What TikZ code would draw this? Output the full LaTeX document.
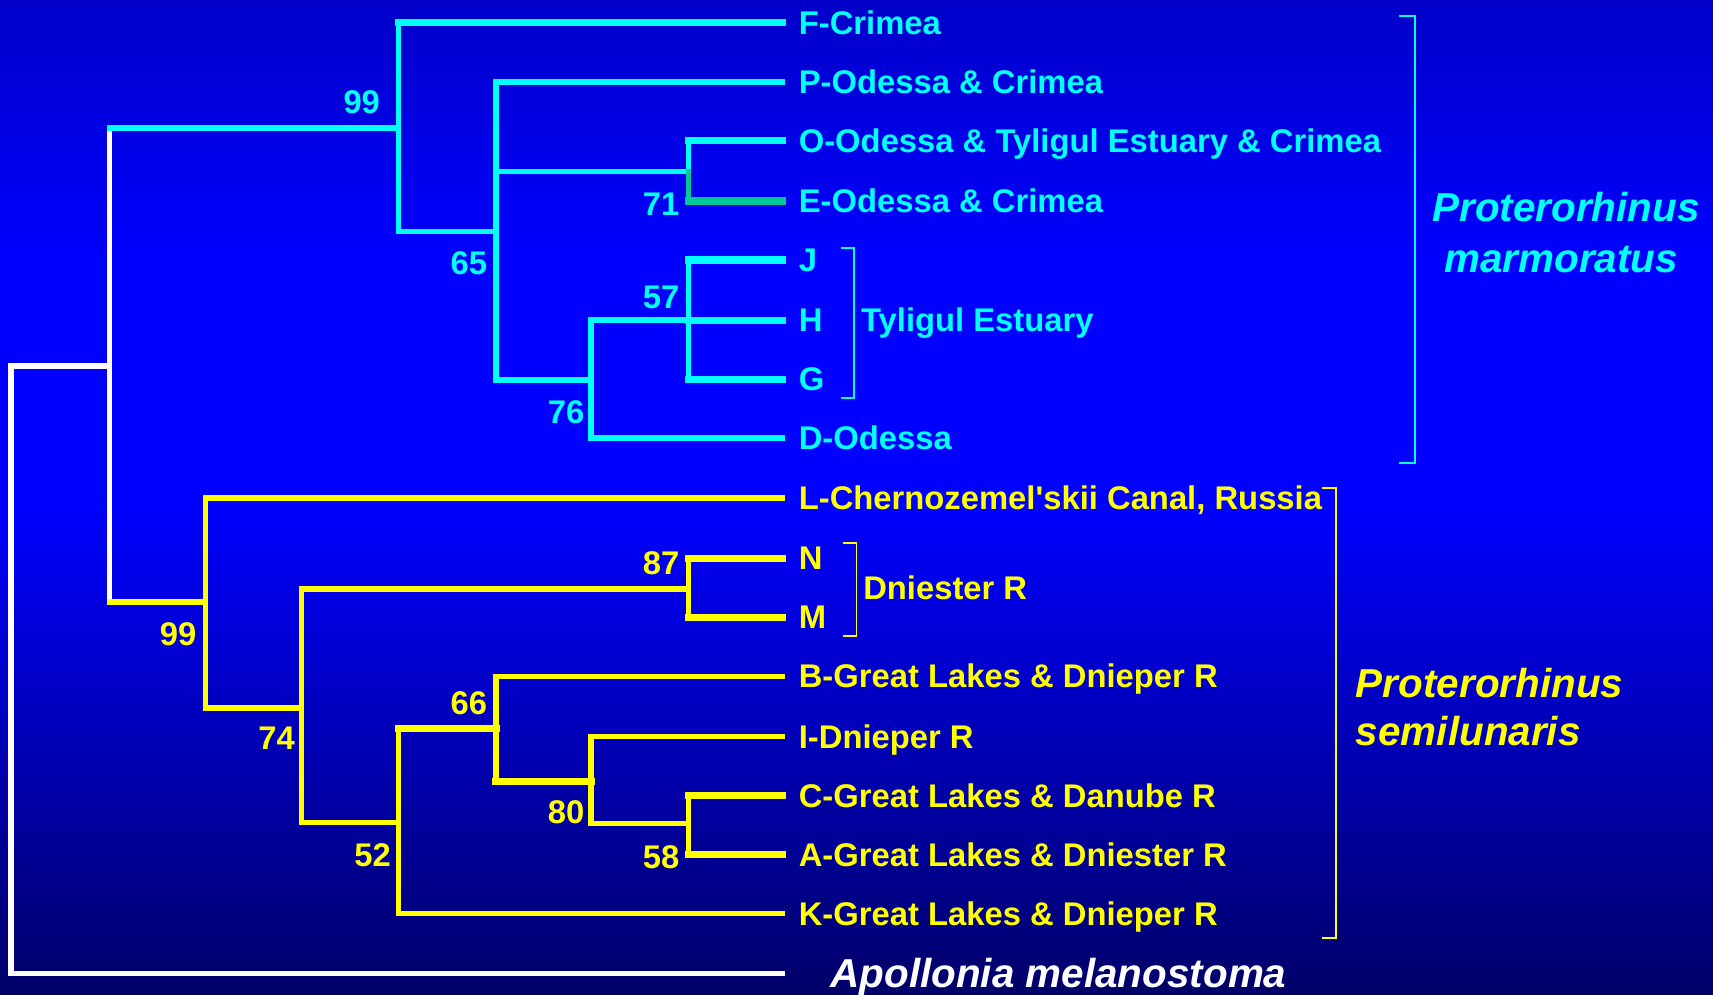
\documentclass[tikz,border=0pt]{standalone}
\usepackage{fontspec}
\setmainfont{Liberation Sans}
\usetikzlibrary{calc}
\definecolor{cy}{RGB}{0,255,255}
\definecolor{yl}{RGB}{255,255,0}
\definecolor{gr}{RGB}{0,200,150}
\definecolor{bgtop}{RGB}{0,0,200}
\definecolor{bgmid}{RGB}{0,0,255}
\definecolor{bgbot}{RGB}{0,0,104}
\begin{document}
\begin{tikzpicture}[x=1pt,y=-1pt,
  br/.style={line width=5pt, line join=miter, line cap=rect},
  brt/.style={line width=6.5pt, line join=miter, line cap=rect},
  bk/.style={line width=1.8pt},
  lab/.style={font=\fontsize{30}{30}\selectfont\bfseries, inner sep=0pt, anchor=base west},
  num/.style={font=\fontsize{30}{30}\selectfont\bfseries, inner sep=0pt, anchor=base east},
  sp/.style={font=\fontsize{37}{46}\selectfont\bfseries\itshape, inner sep=0pt, anchor=base west},
]
\useasboundingbox (0,0) rectangle (1568,910);
% background
\shade[top color=bgtop, bottom color=bgmid] (0,0) rectangle (1568,240);
\fill[bgmid] (0,239) rectangle (1568,461);
\shade[top color=bgmid, bottom color=bgbot] (0,460) rectangle (1568,910);

% leaf ends
\foreach \n/\y in {F/21,P/75,O/129,E/184,J/238,H/293,G/347,D/401,L/456,N/511,M/565,B/619,I/674,C/728,A/782,K/836,Apo/891}
  \coordinate (e\n) at (716,\y);

% internal nodes
\coordinate (root) at (10,613);
\coordinate (nA) at (100,335);
\coordinate (nAt) at (100,117);
\coordinate (nAb) at (100,551);
\coordinate (n99m) at (365,117);
\coordinate (n65) at (454,212);
\coordinate (nOE) at (630,157);
\coordinate (n76) at (541,348);
\coordinate (nJHG) at (630,293);
\coordinate (n99s) at (188,551);
\coordinate (n74) at (276,648);
\coordinate (nNM) at (630,539);
\coordinate (n52) at (365,753);
\coordinate (n66) at (454,667);
\coordinate (n80) at (541,715);
\coordinate (nCA) at (630,754);

% root / outgroup
\draw[br,white] (nA) -| (root) |- (eApo);
\draw[br,white] (nAt) -- (nAb);

% P. marmoratus clade
\draw[br,cy] (nAt) -- (n99m);
\draw[br,cy] (n99m |- eF) |- (n65);
\draw[brt,cy] (eF) -- (n99m |- eF);
\draw[br,cy] (eP) -| (n65) |- (n76);
\draw[br,cy] (n65 |- nOE) -- (nOE);
\draw[br,cy] (nOE) -- (nOE |- eO);
\draw[brt,cy] (nOE |- eO) -- (eO);
\draw[br,gr] (nOE) -- (nOE |- eE);
\draw[brt,gr] (nOE |- eE) -- (eE);
\draw[br,cy] (n76 |- eH) |- (eD);
\draw[br,cy] (n76 |- eH) -- (nJHG);
\draw[br,cy] (nJHG |- eJ) -- (nJHG |- eG);
\draw[brt,cy] (nJHG |- eJ) -- (eJ);
\draw[brt,cy] (nJHG) -- (eH);
\draw[brt,cy] (nJHG |- eG) -- (eG);

% P. semilunaris clade
\draw[br,yl] (nAb) -- (n99s);
\draw[br,yl] (n99s |- eL) -- (eL);
\draw[br,yl] (n99s |- eL) |- (n74);
\draw[br,yl] (nNM) -| (n74) |- (n52);
\draw[br,yl] (nNM |- eN) -- (nNM |- eM);
\draw[brt,yl] (nNM |- eN) -- (eN);
\draw[brt,yl] (nNM |- eM) -- (eM);
\draw[brt,yl] (n52 |- n66) -- (n66);
\draw[br,yl] (n52 |- n66) |- (eK);
\draw[br,yl] (eB) -| (n66) -- (n66 |- n80);
\draw[brt,yl] (n66 |- n80) -- (n80);
\draw[br,yl] (eI) -| (n80) |- (nCA);
\draw[br,yl] (nCA |- eC) -- (nCA |- eA);
\draw[brt,yl] (nCA |- eC) -- (eC);
\draw[brt,yl] (nCA |- eA) -- (eA);

% bootstrap values
\node[num,text=cy] (b99m) at ($(n99m)+(-17,-13)$) {99};
\node[num,text=cy] (b65) at ($(n65)+(-8,39)$) {65};
\node[num,text=cy] (b71) at ($(nOE)+(-8,40)$) {71};
\node[num,text=cy] (b57) at ($(nJHG)+(-8,-11)$) {57};
\node[num,text=cy] (b76) at ($(n76)+(-6,40)$) {76};
\node[num,text=yl] (b99s) at ($(n99s)+(-8,40)$) {99};
\node[num,text=yl] (b87) at ($(nNM)+(-8,-13)$) {87};
\node[num,text=yl] (b74) at ($(n74)+(-6,38)$) {74};
\node[num,text=yl] (b66) at ($(n66)+(-8,-13)$) {66};
\node[num,text=yl] (b52) at ($(n52)+(-7,40)$) {52};
\node[num,text=yl] (b80) at ($(n80)+(-6,39)$) {80};
\node[num,text=yl] (b58) at ($(nCA)+(-8,41)$) {58};

% leaf labels
\node[lab,text=cy] (tF) at ($(eF)+(15,10.7)$) {F-Crimea};
\node[lab,text=cy] (tP) at ($(eP)+(15,10.7)$) {P-Odessa \& Crimea};
\node[lab,text=cy] (tO) at ($(eO)+(15,10.7)$) {O-Odessa \& Tyligul Estuary \& Crimea};
\node[lab,text=cy] (tE) at ($(eE)+(15,10.7)$) {E-Odessa \& Crimea};
\node[lab,text=cy] (tJ) at ($(eJ)+(15,10.7)$) {J};
\node[lab,text=cy] (tH) at ($(eH)+(15,10.7)$) {H};
\node[lab,text=cy] (tG) at ($(eG)+(15,10.7)$) {G};
\node[lab,text=cy] (tD) at ($(eD)+(15,10.7)$) {D-Odessa};
\node[lab,text=yl] (tL) at ($(eL)+(15,10.7)$) {L-Chernozemel\textquotesingle skii Canal, Russia};
\node[lab,text=yl] (tN) at ($(eN)+(15,10.7)$) {N};
\node[lab,text=yl] (tM) at ($(eM)+(15,10.7)$) {M};
\node[lab,text=yl] (tB) at ($(eB)+(15,10.7)$) {B-Great Lakes \& Dnieper R};
\node[lab,text=yl] (tI) at ($(eI)+(15,10.7)$) {I-Dnieper R};
\node[lab,text=yl] (tC) at ($(eC)+(15,10.7)$) {C-Great Lakes \& Danube R};
\node[lab,text=yl] (tA) at ($(eA)+(15,10.7)$) {A-Great Lakes \& Dniester R};
\node[lab,text=yl] (tK) at ($(eK)+(15,10.7)$) {K-Great Lakes \& Dnieper R};
\node[sp,text=white] (tApo) at ($(eApo)+(44,13)$) {Apollonia melanostoma};

% brackets
\coordinate (bT1) at (770,227); \coordinate (bT2) at (782,364);
\draw[bk,cy] (bT1) -| (bT2) -- (bT1 |- bT2);
\node[lab,text=cy] (tTy) at (788,303.7) {Tyligul Estuary};
\coordinate (bD1) at (772,497); \coordinate (bD2) at (784,582);
\draw[bk,yl] (bD1) -| (bD2) -- (bD1 |- bD2);
\node[lab,text=yl] (tDn) at (790,548.7) {Dniester R};
\coordinate (bM1) at (1281,15); \coordinate (bM2) at (1295,424);
\draw[bk,cy] (bM1) -| (bM2) -- (bM1 |- bM2);
\coordinate (bS1) at (1210,447); \coordinate (bS2) at (1223,859);
\draw[bk,yl] (bS1) -| (bS2) -- (bS1 |- bS2);

% species names
\node[sp,text=cy] (sm1) at (1311,203) {Proterorhinus};
\node[sp,text=cy] (sm2) at (1322,249) {marmoratus};
\node[sp,text=yl] (ss1) at (1241,638) {Proterorhinus};
\node[sp,text=yl] (ss2) at (1241,682) {semilunaris};
\end{tikzpicture}
\end{document}
